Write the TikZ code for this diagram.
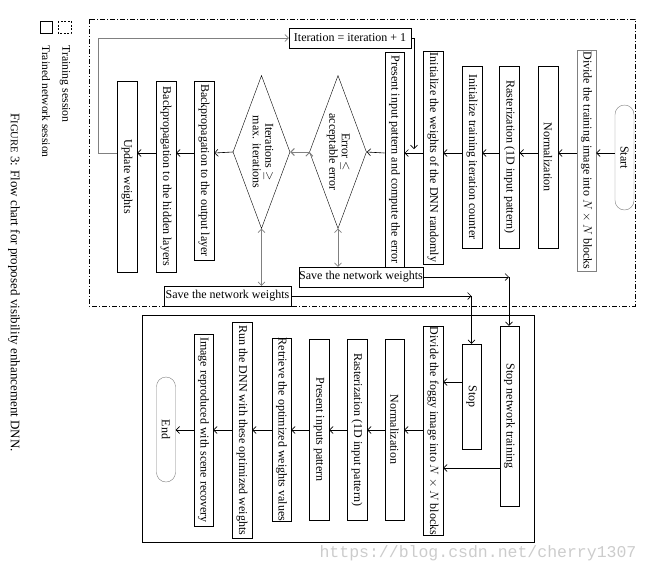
\documentclass[tikz,border=0pt]{standalone}
\usepackage{amsmath}
\usepackage{amssymb}
\usepackage{graphicx}
\usepackage{fontspec}
\setmainfont{Liberation Serif}
\newfontfamily\wmfont{Liberation Mono}
\usetikzlibrary{shapes.geometric, arrows.meta}

\newcommand{\vt}[1]{\rotatebox{-90}{#1}}
\newcommand{\vtt}[2]{\rotatebox{-90}{\begin{tabular}{@{}c@{}}#1\\#2\end{tabular}}}

\tikzset{
	blk/.style={draw, fill=white, minimum width=20pt, inner sep=0pt},
	term/.style={draw=gray, fill=white, rounded corners=9.5pt, minimum width=19pt, minimum height=105pt, inner sep=0pt},
	dec/.style={diamond, draw, aspect=0.37, minimum width=57pt, minimum height=153pt, inner sep=0pt},
	hblk/.style={draw, fill=white, minimum height=20pt, inner sep=0pt},
	flow/.style={-{Straight Barb[length=3.5pt, width=7pt]}, line width=0.6pt},
	gflow/.style={-{Straight Barb[length=3.5pt, width=7pt]}, line width=1pt, draw=gray},
}

\begin{document}
\begin{tikzpicture}[x=1pt, y=-1pt, every node/.style={font=\fontsize{12}{12.5}\selectfont}]
	\useasboundingbox (0,0) rectangle (649,574);

	% frames and legend
	\draw[line width=0.6pt, dash pattern=on 5pt off 2pt on 1pt off 2pt] (89,19) rectangle (635,306);
	\draw[line width=0.6pt] (142,315) rectangle (534,542);
	\draw[line width=0.6pt] (40,21) rectangle (52,33);
	\draw[line width=0.6pt, dash pattern=on 2pt off 1.5pt] (58,21) rectangle (71,33);
	\node[anchor=north, font=\fontsize{11.8}{12}\selectfont] (tr) at (65,42) {\vt{Training session}};
	\node[anchor=north, font=\fontsize{11.5}{12}\selectfont] (tn) at (46,42) {\vt{Trained network session}};
	\node[anchor=north, font=\fontsize{13}{13}\selectfont] (cap) at (14,110) {\vt{F{\fontsize{10.5}{11}\selectfont IGURE} 3: Flow chart for proposed visibility enhancement DNN.}};
	\node[text=gray!40, font=\wmfont\fontsize{16.5}{18}\selectfont] (wm) at (478,553) {https://blog.csdn.net/cherry1307};

	\coordinate (f) at (0,153);
	\coordinate (f2) at (0,430);
	\coordinate (g1) at (0,468);
	\coordinate (g2) at (0,382);
	\coordinate (lp) at (98,38);
	\coordinate (ret) at (414,149);
	\coordinate (c1) at (509,277);
	\coordinate (c2) at (471.5,296);

	% training session
	\node[term] (start) at (624.5,157.5) {\vt{Start}};
	\node[blk, draw=gray, minimum width=19pt, minimum height=221pt] (divide) at (586.5,160.5) {\vt{Divide the training image into $N \times N$ blocks}};
	\node[blk, minimum height=182pt] (norm) at (548,157) {\vt{Normalization}};
	\node[blk, minimum height=182pt] (raster) at (509.5,157) {\vt{Rasterization (1D input pattern)}};
	\node[blk, minimum height=182pt] (initcnt) at (472,157) {\vt{Initialize training iteration counter}};
	\node[blk, minimum height=213pt] (initw) at (433,157.5) {\vt{Initialize the weights of the DNN randomly}};
	\node[blk, line width=1pt, minimum width=19pt, minimum height=215pt] (present) at (394.5,159.5) {\vt{Present input pattern and compute the error}};
	\node[dec] (err) at (338,152) {\vtt{Error $\leq$}{acceptable error}};
	\node[dec] (iter) at (261.5,152) {\vtt{Iterations $\geq$}{max. iterations}};
	\node[blk, minimum height=179pt] (bpout) at (204,170.5) {\vt{Backpropagation to the output layer}};
	\node[blk, minimum height=191pt] (bphid) at (166,176.5) {\vt{Backpropagation to the hidden layers}};
	\node[blk, minimum height=191pt] (update) at (127,176.5) {\vt{Update weights}};
	\node[hblk, minimum width=122pt] (iterbox) at (350,38) {Iteration = iteration + 1};
	\node[hblk, minimum width=124pt] (save1) at (361,277) {Save the network weights};
	\node[hblk, minimum width=127pt] (save2) at (227.5,296) {Save the network weights};

	% trained network session
	\node[blk, minimum width=19pt, minimum height=180pt] (stoptrain) at (509.5,416) {\vt{Stop network training}};
	\node[blk, minimum width=19pt, minimum height=105pt] (stop) at (471.5,396.5) {\vt{Stop}};
	\node[blk, minimum height=204pt] (divfog) at (433,431) {\vt{Divide the foggy image into $N \times N$ blocks}};
	\node[blk, minimum width=19pt, minimum height=181pt] (norm2) at (394.5,429.5) {\vt{Normalization}};
	\node[blk, minimum height=181pt] (raster2) at (357,429.5) {\vt{Rasterization (1D input pattern)}};
	\node[blk, minimum height=181pt] (present2) at (319,429.5) {\vt{Present inputs pattern}};
	\node[blk, minimum width=19pt, minimum height=181pt] (retrieve) at (281.5,429.5) {\vt{Retrieve the optimized weights values}};
	\node[blk, minimum height=216pt] (run) at (242,430) {\vt{Run the DNN with these optimized weights}};
	\node[blk, minimum width=19pt, minimum height=192pt] (image) at (203.5,430) {\vt{Image reproduced with scene recovery}};
	\node[term] (end) at (166,429.5) {\vt{End}};

	\path [flow] (start.west |- f) edge (divide.east |- f);
	\path [flow] (divide.west |- f) edge (norm.east |- f);
	\path [flow] (norm.west |- f) edge (raster.east |- f);
	\path [flow] (raster.west |- f) edge (initcnt.east |- f);
	\path [flow] (initcnt.west |- f) edge (initw.east |- f);
	\path [flow] (initw.west |- f) edge (present.east |- f);
	\path [flow] (present.west |- f) edge (err.east);
	\path [gflow] (err.west) edge (iter.east);
	\path [flow] (iter.west) edge (bpout.east |- f);
	\path [flow] (bpout.west |- f) edge (bphid.east |- f);
	\path [flow] (bphid.west |- f) edge (update.east |- f);
	\draw [flow, draw=gray] (update.west |- f) -| (lp) -- (iterbox.west);
	\draw [flow] (iterbox.east) -| (ret);
	\path [flow, draw=gray] (err.south) edge (err.south |- save1.north);
	\path [flow, draw=gray] (iter.south) edge (iter.south |- save2.north);
	\path [flow] (save1.east) edge (c1);
	\path [flow] (c1) edge (c1 |- stoptrain.north);
	\path [flow] (save2.east) edge (c2);
	\path [flow] (c2) edge (c2 |- stop.north);

	\path [flow] (stoptrain.west |- g1) edge (divfog.east |- g1);
	\path [flow] (stop.west |- g2) edge (divfog.east |- g2);
	\path [flow] (divfog.west |- f2) edge (norm2.east |- f2);
	\path [flow] (norm2.west |- f2) edge (raster2.east |- f2);
	\path [flow] (raster2.west |- f2) edge (present2.east |- f2);
	\path [flow] (present2.west |- f2) edge (retrieve.east |- f2);
	\path [flow] (retrieve.west |- f2) edge (run.east |- f2);
	\path [flow] (run.west |- f2) edge (image.east |- f2);
	\path [flow] (image.west |- f2) edge (end.east |- f2);
\end{tikzpicture}
\end{document}
